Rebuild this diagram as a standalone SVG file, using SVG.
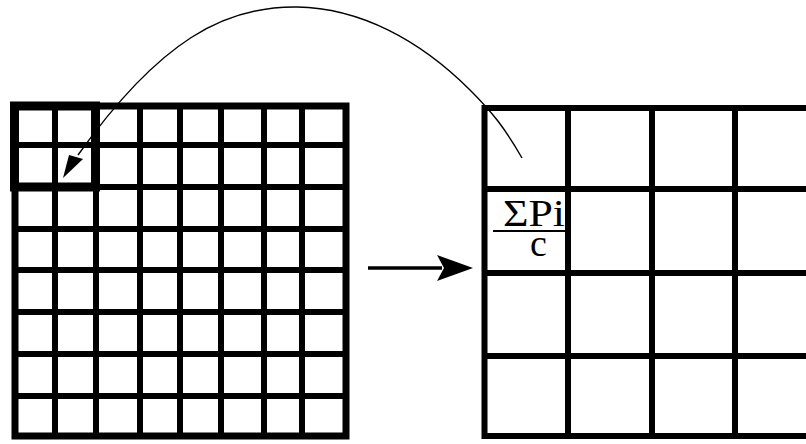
<svg xmlns="http://www.w3.org/2000/svg" width="806" height="444" viewBox="0 0 806 444">
  <style>
    .g { stroke: #000; fill: none; stroke-width: 6; }
    .border { stroke: #000; fill: none; stroke-width: 7; }
    .hl { stroke: #000; fill: none; stroke-width: 9; }
    .curve { stroke: #000; fill: none; stroke-width: 1.4; }
    .shaft { stroke: #000; fill: none; stroke-width: 3.5; }
    .head { fill: #000; stroke: none; }
    .math { font-family: "Liberation Serif", "Times New Roman", serif; font-size: 38px; fill: #000; }
  </style>
  <rect width="806" height="444" fill="#fff"/>

  <g id="fine-grid">
    <g class="g">
      <line x1="55" y1="106" x2="55" y2="436"/>
      <line x1="96" y1="106" x2="96" y2="436"/>
      <line x1="140" y1="106" x2="140" y2="436"/>
      <line x1="180" y1="106" x2="180" y2="436"/>
      <line x1="221" y1="106" x2="221" y2="436"/>
      <line x1="264" y1="106" x2="264" y2="436"/>
      <line x1="302" y1="106" x2="302" y2="436"/>
      <line x1="15" y1="145" x2="346" y2="145"/>
      <line x1="15" y1="187" x2="346" y2="187"/>
      <line x1="15" y1="229" x2="346" y2="229"/>
      <line x1="15" y1="270" x2="346" y2="270"/>
      <line x1="15" y1="312" x2="346" y2="312"/>
      <line x1="15" y1="354" x2="346" y2="354"/>
      <line x1="15" y1="396" x2="346" y2="396"/>
    </g>
    <rect class="border" x="15" y="106" width="331" height="330"/>
    <rect id="block" class="hl" x="14.5" y="106" width="81" height="81"/>
  </g>

  <g id="coarse-grid">
    <g class="g">
      <line x1="568" y1="108" x2="568" y2="436"/>
      <line x1="652" y1="108" x2="652" y2="436"/>
      <line x1="735" y1="108" x2="735" y2="436"/>
      <line x1="484.5" y1="189" x2="806" y2="189"/>
      <line x1="484.5" y1="273" x2="806" y2="273"/>
      <line x1="484.5" y1="356" x2="806" y2="356"/>
    </g>
    <rect class="g" x="484.5" y="108" width="400" height="328"/>
  </g>

  <g id="formula">
    <text class="math" x="503" y="226" textLength="62" lengthAdjust="spacingAndGlyphs">ΣPi</text>
    <line x1="493" y1="231" x2="565" y2="231" stroke="#000" stroke-width="2"/>
    <text class="math" x="530" y="256">c</text>
  </g>

  <g id="connectors">
    <path class="curve" d="M522,158 C505,128 492,112 470,90 C420,40 360,8 297,7 C225,6 160,40 78,155"/>
    <polygon class="head" points="63,178 69,155 76,157 83,159"/>
    <line class="shaft" x1="368" y1="268" x2="442" y2="268"/>
    <polygon class="head" points="473,268 437,255 444,268 437,281"/>
  </g>
</svg>
